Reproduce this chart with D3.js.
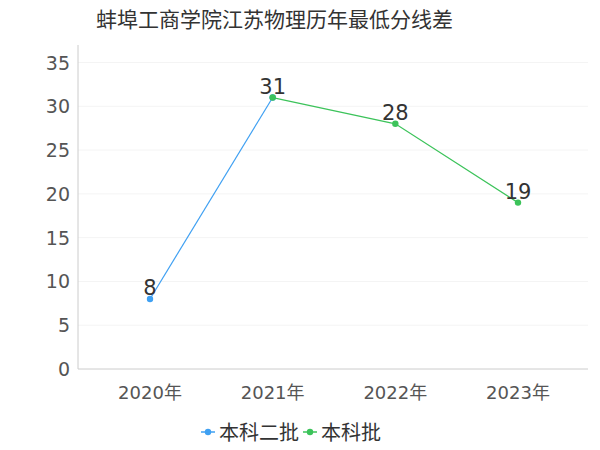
<!DOCTYPE html>
<html><head><meta charset="utf-8">
<script src="https://cdn.jsdelivr.net/npm/d3@7"></script>
<style>body{margin:0;background:#fff;font-family:"DejaVu Sans","Noto Sans CJK SC",sans-serif}</style>
</head><body>
<svg id="c" width="600" height="450"></svg>
<script>
var years = ["2020年","2021年","2022年","2023年"];
var erpi = [8, 31, null, null];      // 本科二批
var benke = [null, 31, 28, 19];      // 本科批
var yTicks = [0,5,10,15,20,25,30,35];

var svg = d3.select("#c");
var x = d3.scalePoint().domain(years).range([150, 518]);
var y = d3.scaleLinear().domain([0, 37]).range([369, 45]);

svg.append("text").attr("x", 96).attr("y", 27).attr("font-size", 21).attr("fill", "#333")
  .text("蚌埠工商学院江苏物理历年最低分线差");

svg.selectAll(".grid").data(yTicks.slice(1)).enter().append("line")
  .attr("x1", 78).attr("x2", 588).attr("y1", y).attr("y2", y)
  .attr("stroke", "#f4f4f4");

svg.append("line").attr("x1", 78).attr("x2", 78).attr("y1", 45).attr("y2", 369).attr("stroke", "#ccc");
svg.append("line").attr("x1", 78).attr("x2", 588).attr("y1", 369).attr("y2", 369).attr("stroke", "#ccc");

svg.selectAll(".yt").data(yTicks).enter().append("text")
  .attr("x", 70).attr("y", function(d){ return y(d) + 7; }).attr("text-anchor", "end")
  .attr("font-size", 19).attr("fill", "#555").text(function(d){ return d; });

svg.selectAll(".xt").data(years).enter().append("text")
  .attr("x", x).attr("y", 399).attr("text-anchor", "middle")
  .attr("font-size", 18).attr("fill", "#555").text(function(d){ return d; });

var series = [
  { name: "本科二批", color: "#3fa0f2", vals: erpi, labels: [true, false, false, false] },
  { name: "本科批", color: "#3cc35a", vals: benke, labels: [false, true, true, true] }
];
var line = d3.line().defined(function(d){ return d.v != null; })
  .x(function(d){ return x(d.k); }).y(function(d){ return y(d.v); });

series.forEach(function(s) {
  var pts = years.map(function(k, i){ return { k: k, v: s.vals[i], lab: s.labels[i] }; });
  svg.append("path").datum(pts).attr("d", line).attr("fill", "none")
    .attr("stroke", s.color).attr("stroke-width", 1.2);
  var valid = pts.filter(function(d){ return d.v != null; });
  svg.selectAll(null).data(valid).enter().append("circle")
    .attr("cx", function(d){ return x(d.k); }).attr("cy", function(d){ return y(d.v); })
    .attr("r", 3.2).attr("fill", s.color);
  svg.selectAll(null).data(valid.filter(function(d){ return d.lab; })).enter().append("text")
    .attr("x", function(d){ return x(d.k); }).attr("y", function(d){ return y(d.v) - 4; })
    .attr("text-anchor", "middle").attr("font-size", 21).attr("fill", "#333")
    .text(function(d){ return d.v; });
});

var lg = svg.append("g");
var lx = 201;
series.forEach(function(s) {
  lg.append("line").attr("x1", lx).attr("x2", lx + 14).attr("y1", 432).attr("y2", 432).attr("stroke", s.color).attr("stroke-width", 1.5);
  lg.append("circle").attr("cx", lx + 7).attr("cy", 432).attr("r", 3.2).attr("fill", s.color);
  var t = lg.append("text").attr("x", lx + 18).attr("y", 440).attr("font-size", 20).attr("fill", "#333").text(s.name);
  lx += 18 + t.node().getComputedTextLength() + 4;
});
</script>
</body></html>
